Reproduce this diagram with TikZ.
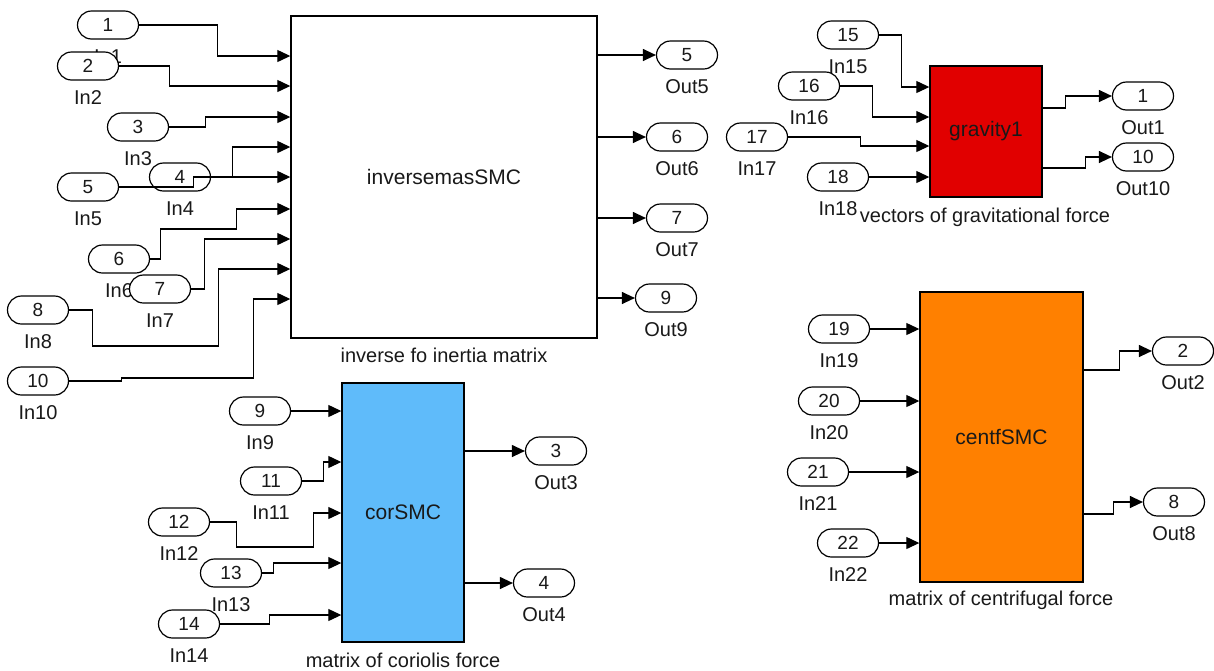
\documentclass[tikz,border=0pt]{standalone}
\usepackage{fontspec}
\setmainfont{Liberation Sans}
\usetikzlibrary{arrows.meta,calc}
\definecolor{txt}{RGB}{25,25,25}
\definecolor{gred}{RGB}{225,0,0}
\definecolor{corange}{RGB}{255,128,0}
\definecolor{cblue}{RGB}{95,187,250}
\begin{document}
\begin{tikzpicture}[x=1pt,y=-1pt,
  port/.style={draw, line width=1.2pt, rounded corners=14pt, minimum width=61pt, minimum height=28pt, inner sep=0pt, fill=white, font=\fontsize{19}{19}\selectfont, text=txt},
  lab/.style={font=\fontsize{20}{20}\selectfont, text=txt, inner sep=0pt},
  every label/.style={lab},
  label distance=10pt,
  blk/.style={draw, line width=1.4pt, inner sep=0pt, font=\fontsize{21}{21}\selectfont, text=txt},
  captxt/.style={lab, anchor=base},
  wire/.style={line width=1.2pt},
  arr/.style={wire, -{Triangle[length=13pt,width=12pt]}},
]
\useasboundingbox (0,0) rectangle (1214,670);

% ---------- main block ----------
\node[blk, fill=white, minimum width=306pt, minimum height=322pt] (main) at (444,177) {inversemasSMC};
\node[captxt] (capmain) at (444,362) {inverse fo inertia matrix};

\node[port, label=below:In1] (i1) at (108,25) {1};
\node[port, label=below:In2] (i2) at (88,66) {2};
\node[port, label=below:In3] (i3) at (138,127) {3};
\node[port, label=below:In5] (i5) at (88,187) {5};
\node[port, label=below:In4] (i4) at (180,177) {4};
\node[port, label=below:In6] (i6) at (119,259) {6};
\node[port, label=below:In7] (i7) at (160,289) {7};
\node[port, label=below:In8] (i8) at (38,310) {8};
\node[port, label=below:In10] (i10) at (38,381) {10};

\node[port, label=below:Out5] (o5) at (687,55) {5};
\node[port, label=below:Out6] (o6) at (677,137) {6};
\node[port, label=below:Out7] (o7) at (677,218) {7};
\node[port, label=below:Out9] (o9) at (666,298) {9};

\draw[arr] (i1.east) -- ++(78,0) |- (main.west |- 0,56);
\draw[arr] (i2.east) -- ++(50,0) |- (main.west |- 0,86);
\draw[arr] (i3.east) -- ++(36,0) |- (main.west |- 0,117);
\draw[arr] (i4.east) -- ++(21,0) |- (main.west |- 0,147);
\draw[arr] (i5.east) -- ++(74,0) |- (main.west |- 0,177);
\draw[arr] (i6.east) -- ++(10,0) -- ++(0,-30) -- ++(76,0) |- (main.west |- 0,209);
\draw[arr] (i7.east) -- ++(13,0) |- (main.west |- 0,239);
\draw[arr] (i8.east) -- ++(23,0) -- ++(0,36) -- ++(126,0) |- (main.west |- 0,269);
\draw[arr] (i10.east) -- ++(52,0) -- ++(0,-3) -- ++(132,0) |- (main.west |- 0,299);

\draw[arr] (main.east |- o5) -- (o5.west);
\draw[arr] (main.east |- o6) -- (o6.west);
\draw[arr] (main.east |- o7) -- (o7.west);
\draw[arr] (main.east |- o9) -- (o9.west);

% ---------- gravity block ----------
\node[blk, fill=gred, minimum width=112pt, minimum height=131pt] (g) at (986,131.5) {gravity1};
\node[captxt] (capg) at (985,222) {vectors of gravitational force};

\node[port, label=below:In15] (i15) at (848,35) {15};
\node[port, label=below:In16] (i16) at (809,86) {16};
\node[port, label=below:In17] (i17) at (757,137) {17};
\node[port, label=below:In18] (i18) at (838,177) {18};
\node[port, label=below:Out1] (o1) at (1143,96) {1};
\node[port, label=below:Out10] (o10) at (1143,157) {10};

\draw[arr] (i15.east) -- ++(22,0) |- (g.west |- 0,87);
\draw[arr] (i16.east) -- ++(32,0) |- (g.west |- 0,117);
\draw[arr] (i17.east) -- ++(72,0) |- (g.west |- 0,146);
\draw[arr] (i18.east) -- (g.west |- i18);
\draw[arr] (g.east |- 0,108) -- ++(23,0) |- (o1.west);
\draw[arr] (g.east |- 0,168) -- ++(43,0) |- (o10.west);

% ---------- centrifugal block ----------
\node[blk, fill=corange, minimum width=163pt, minimum height=290pt] (c) at (1001.5,437) {centfSMC};
\node[captxt] (capc) at (1001,605) {matrix of centrifugal force};

\node[port, label=below:In19] (i19) at (839,329) {19};
\node[port, label=below:In20] (i20) at (829,401) {20};
\node[port, label=below:In21] (i21) at (818,472) {21};
\node[port, label=below:In22] (i22) at (848,543) {22};
\node[port, label=below:Out2] (o2) at (1183,351) {2};
\node[port, label=below:Out8] (o8) at (1174,502) {8};

\draw[arr] (i19.east) -- (c.west |- i19);
\draw[arr] (i20.east) -- (c.west |- i20);
\draw[arr] (i21.east) -- (c.west |- i21);
\draw[arr] (i22.east) -- (c.west |- i22);
\draw[arr] (c.east |- 0,370) -- ++(36,0) |- (o2.west);
\draw[arr] (c.east |- 0,514) -- ++(30,0) |- (o8.west);

% ---------- coriolis block ----------
\node[blk, fill=cblue, minimum width=122pt, minimum height=259pt] (cor) at (403,512.5) {corSMC};
\node[captxt] (capcor) at (403,667) {matrix of coriolis force};

\node[port, label=below:In9] (i9) at (260,411) {9};
\node[port, label=below:In11] (i11) at (271,481) {11};
\node[port, label=below:In12] (i12) at (179,522) {12};
\node[port, label=below:In13] (i13) at (231,573) {13};
\node[port, label=below:In14] (i14) at (189,624) {14};
\node[port, label=below:Out3] (o3) at (556,451) {3};
\node[port, label=below:Out4] (o4) at (544,583) {4};

\draw[arr] (i9.east) -- (cor.west |- i9);
\draw[arr] (i11.east) -- ++(21,0) |- (cor.west |- 0,462);
\draw[arr] (i12.east) -- ++(26,0) -- ++(0,25) -- ++(77,0) |- (cor.west |- 0,513);
\draw[arr] (i13.east) -- ++(11,0) |- (cor.west |- 0,563);
\draw[arr] (i14.east) -- ++(49,0) |- (cor.west |- 0,615);
\draw[arr] (cor.east |- o3) -- (o3.west);
\draw[arr] (cor.east |- o4) -- (o4.west);
\end{tikzpicture}
\end{document}
